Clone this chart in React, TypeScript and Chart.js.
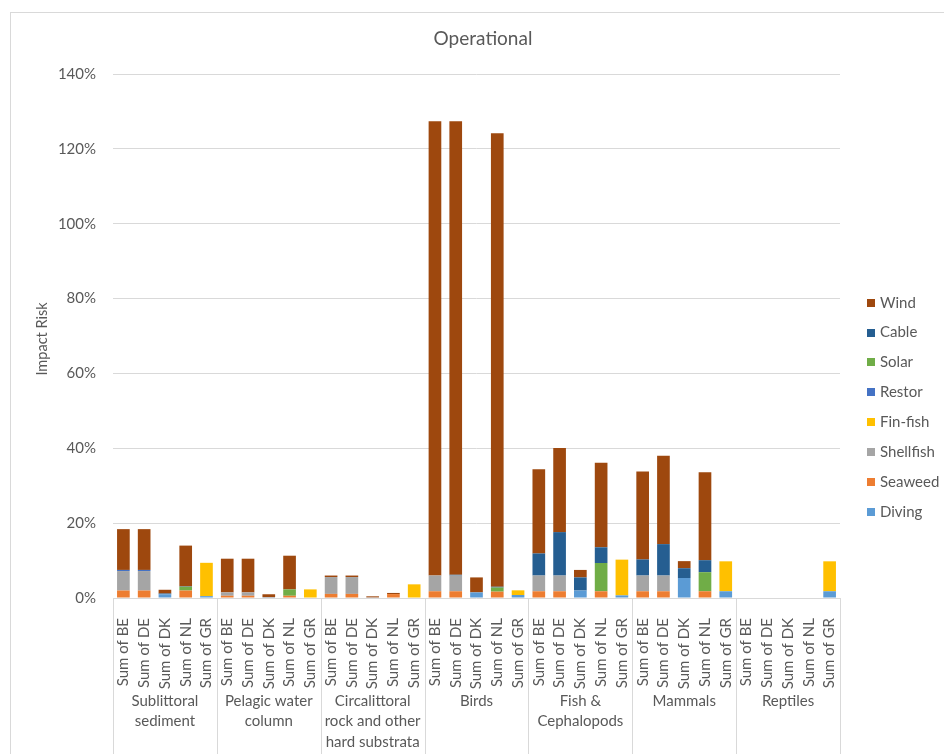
import { useEffect, useRef } from "react";
import { Chart, registerables } from "chart.js";

Chart.register(...registerables);

// Habitat / receptor groups (multi-line labels under the axis)
const groups: string[][] = [
  ["Sublittoral", "sediment"],
  ["Pelagic water", "column"],
  ["Circalittoral", "rock and other", "hard substrata"],
  ["Birds"],
  ["Fish &", "Cephalopods"],
  ["Mammals"],
  ["Reptiles"],
];

const countries = ["BE", "DE", "DK", "NL", "GR"];

const categories = groups.flatMap(() => countries.map((c) => `Sum of ${c}`));

const yTicks = [0, 20, 40, 60, 80, 100, 120, 140];

// Impact risk (%) per pressure, in the order of the categories above
const diving = [
  0, 0, 1.0, 0, 0.5,
  0, 0, 0.2, 0, 0,
  0, 0, 0.15, 0, 0,
  0, 0, 1.5, 0, 0.8,
  0, 0, 2.0, 0, 0.7,
  0, 0, 5.35, 0, 1.8,
  0, 0, 0, 0, 1.8,
];
const seaweed = [
  2.0, 2.0, 0, 2.0, 0,
  0.6, 0.6, 0, 0.6, 0,
  1.1, 1.1, 0, 1.05, 0,
  1.8, 1.8, 0, 1.7, 0,
  1.8, 1.8, 0, 1.8, 0,
  1.8, 1.8, 0, 1.8, 0,
  0, 0, 0, 0, 0,
];
const shellfish = [
  5.2, 5.2, 0, 0, 0,
  0.9, 0.9, 0, 0, 0,
  4.5, 4.5, 0, 0, 0,
  4.2, 4.2, 0, 0, 0,
  4.2, 4.2, 0, 0, 0,
  4.2, 4.2, 0, 0, 0,
  0, 0, 0, 0, 0,
];
const finfish = [
  0, 0, 0, 0, 8.9,
  0, 0, 0, 0, 2.3,
  0, 0, 0, 0, 3.65,
  0, 0, 0, 0, 1.25,
  0, 0, 0, 0, 9.55,
  0, 0, 0, 0, 8.0,
  0, 0, 0, 0, 8.0,
];
const restor = [
  0.3, 0.3, 0, 0, 0,
  0, 0, 0, 0, 0,
  0, 0, 0, 0, 0,
  0, 0, 0, 0, 0,
  0, 0, 0, 0, 0,
  0, 0, 0, 0, 0,
  0, 0, 0, 0, 0,
];
const solar = [
  0, 0, 0, 1.0, 0,
  0, 0, 0, 1.7, 0,
  0, 0, 0, 0, 0,
  0, 0, 0, 1.1, 0,
  0, 0, 0, 7.55, 0,
  0, 0, 0, 5.1, 0,
  0, 0, 0, 0, 0,
];
const cable = [
  0, 0, 0.2, 0.1, 0,
  0, 0, 0, 0, 0,
  0, 0, 0, 0, 0,
  0, 0.2, 0, 0.2, 0,
  5.9, 11.6, 3.5, 4.2, 0,
  4.3, 8.4, 2.6, 3.2, 0,
  0, 0, 0, 0, 0,
];
const wind = [
  10.9, 10.9, 1.0, 10.9, 0,
  9.0, 9.0, 0.8, 9.0, 0,
  0.4, 0.4, 0.3, 0.3, 0,
  121.4, 121.2, 4.0, 121.2, 0,
  22.5, 22.5, 2.0, 22.6, 0,
  23.5, 23.6, 1.9, 23.5, 0,
  0, 0, 0, 0, 0,
];

const series = [
  { label: "Diving", data: diving, color: "#5B9BD5" },
  { label: "Seaweed", data: seaweed, color: "#ED7D31" },
  { label: "Shellfish", data: shellfish, color: "#A5A5A5" },
  { label: "Fin-fish", data: finfish, color: "#FFC000" },
  { label: "Restor", data: restor, color: "#4472C4" },
  { label: "Solar", data: solar, color: "#70AD47" },
  { label: "Cable", data: cable, color: "#255E91" },
  { label: "Wind", data: wind, color: "#9E480E" },
];

const TEXT = "#595959";
const LINE = "#d9d9d9";
const FONT = "Lato, 'Open Sans', sans-serif";

// Draws the frame, title, axis title, legend and the grouped category labels
const decorations = {
  id: "decorations",
  beforeDraw(chart: any) {
    const { ctx, width, height } = chart;
    ctx.save();
    ctx.fillStyle = "#ffffff";
    ctx.fillRect(0, 0, width, height);
    ctx.strokeStyle = LINE;
    ctx.lineWidth = 1;
    ctx.strokeRect(10.5, 12.5, width + 20, height + 20);
    ctx.restore();
  },
  afterDraw(chart: any) {
    const { ctx, chartArea, height } = chart;
    const x = chart.scales.x;
    ctx.save();
    ctx.fillStyle = TEXT;
    ctx.textAlign = "center";
    ctx.textBaseline = "middle";

    // title
    ctx.font = `19px ${FONT}`;
    ctx.fillText("Operational", 483, 39);

    // y-axis title
    ctx.save();
    ctx.font = `14.5px ${FONT}`;
    ctx.translate(42, (chartArea.top + chartArea.bottom) / 2 + 3);
    ctx.rotate(-Math.PI / 2);
    ctx.fillText("Impact Risk", 0, 0);
    ctx.restore();

    // group separators and group labels
    const step = (chartArea.right - chartArea.left) / categories.length;
    ctx.strokeStyle = LINE;
    ctx.lineWidth = 1;
    for (let g = 0; g <= groups.length; g++) {
      const px =
        g < groups.length
          ? x.getPixelForValue(g * countries.length) - step / 2
          : x.getPixelForValue(categories.length - 1) + step / 2;
      const xp = Math.round(px) + 0.5;
      ctx.beginPath();
      ctx.moveTo(xp, chartArea.bottom);
      ctx.lineTo(xp, height);
      ctx.stroke();
    }
    ctx.font = `15px ${FONT}`;
    groups.forEach((lines, g) => {
      const cx = x.getPixelForValue(g * countries.length + 2);
      lines.forEach((t, i) => {
        ctx.fillText(t, cx, chartArea.bottom + 103 + i * 20.5);
      });
    });

    // legend (top entry is the top of the stack)
    ctx.textAlign = "left";
    ctx.font = `15px ${FONT}`;
    const items = [...chart.data.datasets].reverse();
    items.forEach((ds: any, i: number) => {
      const cy = 302.7 + i * 29.86;
      ctx.fillStyle = ds.backgroundColor;
      ctx.fillRect(867, Math.round(cy - 4), 8, 8);
      ctx.fillStyle = TEXT;
      ctx.fillText(ds.label, 880, cy);
    });
    ctx.restore();
  },
};

export default function App() {
  const canvasRef = useRef<HTMLCanvasElement | null>(null);

  useEffect(() => {
    const canvas = canvasRef.current;
    if (!canvas) return;
    const chart = new Chart(canvas, {
      type: "bar",
      data: {
        labels: categories,
        datasets: series.map((s) => ({
          label: s.label,
          data: s.data,
          backgroundColor: s.color,
          borderWidth: 0,
          barPercentage: 0.61,
          categoryPercentage: 1.0,
        })),
      },
      options: {
        responsive: false,
        animation: false,
        layout: { padding: { top: 74, right: 104, bottom: 0, left: 0 } },
        plugins: {
          legend: { display: false },
          title: { display: false },
          tooltip: { enabled: false },
        },
        scales: {
          x: {
            stacked: true,
            grid: { display: false },
            border: { display: false },
            ticks: {
              autoSkip: false,
              minRotation: 90,
              maxRotation: 90,
              padding: 12,
              color: TEXT,
              font: { family: FONT, size: 15 },
            },
            afterFit: (scale: any) => {
              scale.height = 156;
            },
          },
          y: {
            stacked: true,
            min: yTicks[0],
            max: yTicks[yTicks.length - 1],
            grid: { color: LINE, lineWidth: 1, drawTicks: false },
            border: { display: false },
            afterBuildTicks: (scale: any) => {
              scale.ticks = yTicks.map((v) => ({ value: v }));
            },
            ticks: {
              padding: 17,
              color: TEXT,
              font: { family: FONT, size: 15 },
              callback: (v: any) => `${v}%`,
            },
            afterFit: (scale: any) => {
              scale.width = 113;
            },
          },
        },
      },
      plugins: [decorations],
    });
    return () => chart.destroy();
  }, []);

  return (
    <div style={{ position: "fixed", left: 0, top: 0, width: 944, height: 754, background: "#fff" }}>
      <canvas ref={canvasRef} width={944} height={754} style={{ display: "block" }} />
    </div>
  );
}
